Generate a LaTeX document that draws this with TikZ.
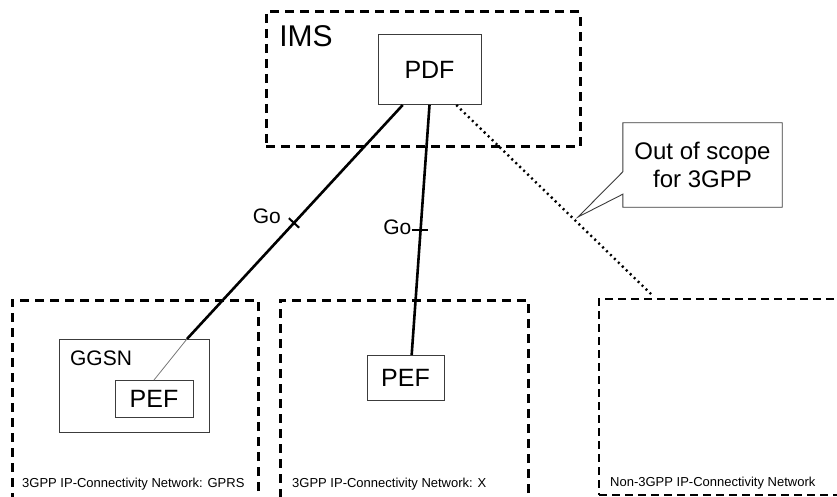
\documentclass[tikz,border=0pt]{standalone}
\usepackage{fontspec}
\setmainfont{Liberation Sans}
\usepackage{tikz}
\usetikzlibrary{
  arrows.meta,
  positioning,
  calc
}
\definecolor{FrameGray}{RGB}{60,60,60}
\definecolor{LinkGray}{RGB}{120,120,120}
\tikzset{
  domainbox/.style={draw=black,line width=3pt,dash pattern=on 9pt off 6pt,inner sep=0pt,outer sep=0pt},
  foreignbox/.style={draw=black,line width=2pt,dash pattern=on 8pt off 5pt,inner sep=0pt,outer sep=0pt},
  funcnode/.style={draw=FrameGray,line width=1pt,inner sep=0pt,outer sep=0pt,font=\fontsize{25}{30}\selectfont},
  hostnode/.style={draw=FrameGray,line width=1pt,inner sep=0pt,outer sep=0pt},
  netlabel/.style={inner sep=0pt,font=\fontsize{13}{15}\selectfont},
  golabel/.style={inner sep=0pt,font=\fontsize{21}{25}\selectfont},
  golink/.style={line width=2.6pt,draw=black},
  gotick/.style={line width=2pt,draw=black},
  innerlink/.style={line width=0.8pt,draw=LinkGray},
  scopelink/.style={line width=2.4pt,dash pattern=on 2pt off 3.5pt,draw=black},
  calloutbox/.style={draw=FrameGray,line width=0.9pt,fill=white}
}

\begin{document}
\begin{tikzpicture}[x=1pt,y=-1pt]
\useasboundingbox (0,0) rectangle (837,497);
\clip (0,0) rectangle (837,497);

\node[domainbox, minimum width=314pt, minimum height=135pt] (ims) at (423,79.5) {};
\node[inner sep=0pt, font=\fontsize{30}{36}\selectfont] (imslabel) at (306,36.5) {IMS};
\node[funcnode, minimum width=103pt, minimum height=70pt] (pdf) at (429.5,70) {PDF};

\node[domainbox, anchor=north west, minimum width=246pt, minimum height=215pt] (gprsnet) at (12,300) {};
\node[domainbox, anchor=north west, minimum width=248pt, minimum height=215pt] (xnet) at (280,300) {};
\node[foreignbox, anchor=north west, minimum width=260pt, minimum height=196pt] (othernet) at (599,299) {};

\node[hostnode, anchor=north west, minimum width=150pt, minimum height=93pt] (ggsn) at (59,339) {};
\node[golabel] (ggsnlabel) at (101,358.5) {GGSN};
\node[funcnode, anchor=north west, minimum width=78pt, minimum height=37pt] (pefg) at (115,380) {PEF};
\node[funcnode, anchor=north west, minimum width=77pt, minimum height=45pt] (pefx) at (367,355) {PEF};

\node[netlabel, anchor=west] (gprslabel) at (22,484) {3GPP IP-Connectivity Network: GPRS};
\node[netlabel, anchor=west] (xlabel) at (292,484) {3GPP IP-Connectivity Network: X};
\node[netlabel, anchor=west] (otherlabel) at (610,483) {Non-3GPP IP-Connectivity Network};

\coordinate (pdfa) at ($(pdf.south west)!0.24!(pdf.south east)$);
\coordinate (pdfc) at ($(pdf.south west)!0.76!(pdf.south east)$);
\coordinate (ggsnin) at ($(ggsn.north west)!0.853!(ggsn.north east)$);
\coordinate (pefxin) at ($(pefx.north west)!0.58!(pefx.north east)$);
\coordinate (otherin) at ($(othernet.north west)+(53,-4)$);

\draw[golink] (pdfa) -- (ggsnin) coordinate[pos=0.504] (gotick1);
\draw[innerlink] (ggsnin) -- (pefg.north);
\draw[golink] (pdf.south) -- (pefxin) coordinate[pos=0.5] (gotick2);
\draw[scopelink] (pdfc) -- (otherin);

\draw[gotick] ($(gotick1)!7pt!90:(ggsnin)$) -- ($(gotick1)!7pt!-90:(ggsnin)$);
\draw[gotick] ($(gotick2)+(-9,0)$) -- ($(gotick2)+(7,0)$);
\node[golabel, anchor=east] (go1) at ($(gotick1)+(-13,-7)$) {Go};
\node[golabel, anchor=east] (go2) at ($(gotick2)+(-9,-3)$) {Go};

\node[inner sep=0pt, align=center, minimum width=159pt, minimum height=84pt,
  font=\fontsize{24}{28}\selectfont] (scope) at (702.5,165) {};
\coordinate (outtip) at (578,217);
\draw[calloutbox] (scope.north west) -- (scope.north east) -- (scope.south east)
  -- (scope.south west) -- ($(scope.south west)+(0,-13)$) -- (outtip)
  -- ($(scope.north west)+(0,49)$) -- cycle;
\node[inner sep=0pt, align=center, font=\fontsize{24}{28}\selectfont] (scopetext) at (scope.center) {Out of scope\\for 3GPP};
\end{tikzpicture}
\end{document}
